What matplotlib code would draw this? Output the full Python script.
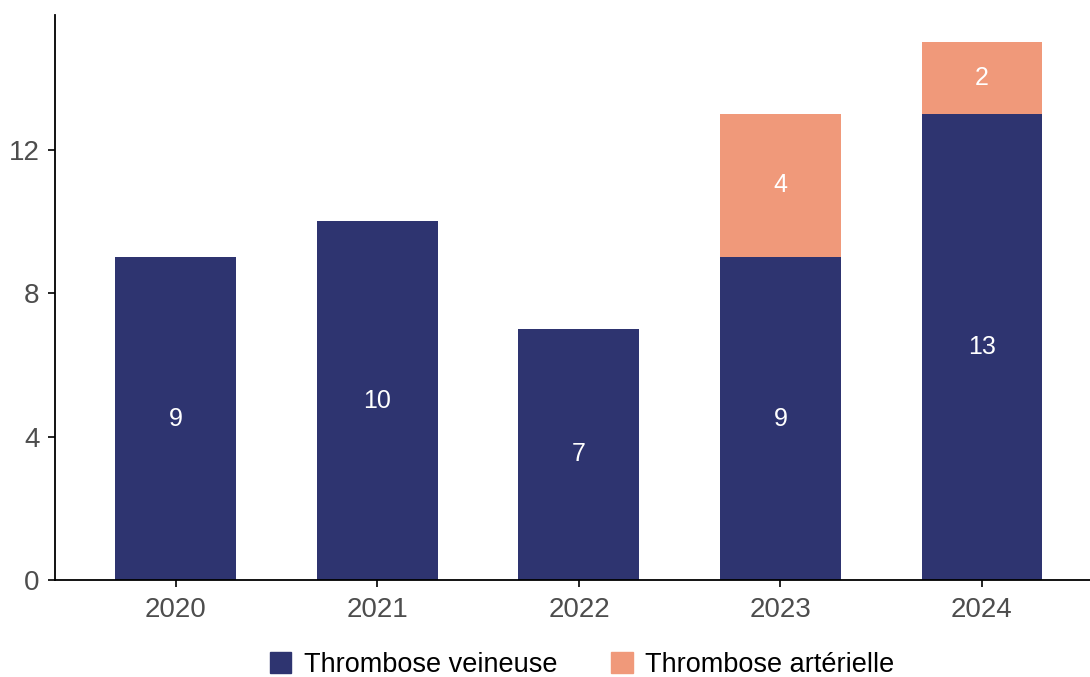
import numpy as np
import matplotlib
matplotlib.use("Agg")
import matplotlib.pyplot as plt
from matplotlib.patches import Patch

plt.rcParams['font.family'] = ['Liberation Sans', 'DejaVu Sans']

# Data
years = ['2020', '2021', '2022', '2023', '2024']
veineuse = [9, 10, 7, 9, 13]
arterielle = [0, 0, 0, 4, 2]

col_vein = '#2E3470'
col_art = '#F0997A'

fig = plt.figure(figsize=(10.9, 6.77), dpi=100)
ax = fig.add_axes([55 / 1090, 97 / 677, 1 - 55 / 1090, (580 - 15) / 677])

x = np.arange(1, len(years) + 1)
width = 0.6
ax.bar(x, veineuse, width, color=col_vein)
ax.bar(x, arterielle, width, bottom=veineuse, color=col_art)

# value labels in the middle of each segment
for xi, v, a in zip(x, veineuse, arterielle):
    if v > 0:
        ax.text(xi, v / 2, str(v), ha='center', va='center', color='white', fontsize=18)
    if a > 0:
        ax.text(xi, v + a / 2, str(a), ha='center', va='center', color='white', fontsize=18)

ax.set_xlim(0.4, 5.536)
ax.set_ylim(0, 15.75)
ax.set_yticks([0, 4, 8, 12])
ax.set_xticks(x)
ax.set_xticklabels(years)

for s in ['top', 'right']:
    ax.spines[s].set_visible(False)
for s in ['left', 'bottom']:
    ax.spines[s].set_linewidth(1.3)
    ax.spines[s].set_color('black')
ax.tick_params(axis='both', labelsize=20, length=5, width=1.2, colors='black')
ax.tick_params(axis='both', labelcolor='#4D4D4D')
ax.tick_params(axis='x', pad=7)
ax.tick_params(axis='y', pad=6)

handles = [Patch(color=col_vein, label='Thrombose veineuse'),
           Patch(color=col_art, label='Thrombose artérielle')]
fig.legend(handles=handles, loc='center', bbox_to_anchor=(582 / 1090, 1 - 665 / 677),
           ncol=2, frameon=False, fontsize=19.5, handlelength=0.8, handleheight=0.8,
           handletextpad=0.45, columnspacing=2.0)

fig.savefig('out.png', dpi=100)
